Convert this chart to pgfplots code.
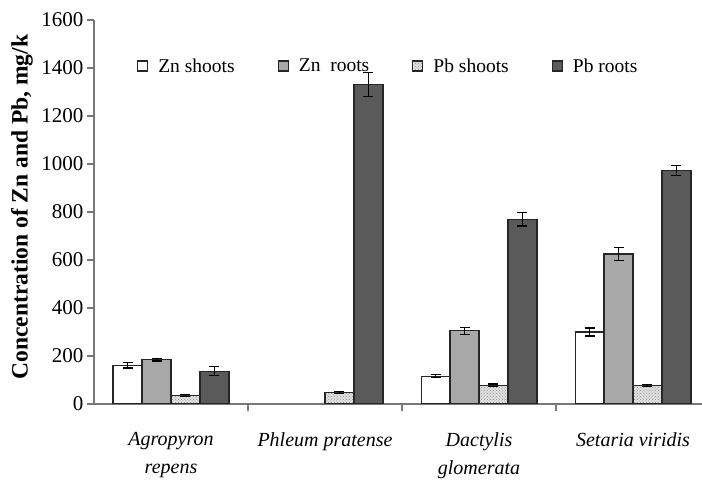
\documentclass[border=0pt]{standalone}
\usepackage{pgfplots}
\pgfplotsset{compat=1.18}
\usepackage{fontspec}
\setmainfont{Liberation Serif}
\usetikzlibrary{patterns}

\definecolor{znroot}{RGB}{168,168,168}
\definecolor{pbroot}{RGB}{90,90,90}
\definecolor{pbshoot}{RGB}{225,225,225}
\definecolor{axisgray}{RGB}{120,120,120}

\pgfplotsset{
  boxlegend/.style={legend image code/.code={\draw[##1] (0pt,-5pt) rectangle (10pt,5pt);}},
  barline/.style={draw=black!85, line width=1.2pt},
  errs/.style={error bars/.cd, y dir=both, y explicit,
    error bar style={black, line width=1.2pt},
    error mark options={rotate=90, mark size=5pt, black, line width=1.2pt}},
}

\begin{document}
\begin{tikzpicture}
\begin{axis}[
  scale only axis, width=608pt, height=384pt,
  xmin=-0.5, xmax=3.448, ymin=0, ymax=1600,
  axis x line*=bottom, axis y line*=left,
  axis line style={-, draw=axisgray, line width=1.1pt},
  ybar=0pt, bar width=0.188,
  ytick={0,200,...,1600},
  every tick/.style={draw=axisgray, line width=1.1pt},
  xtick={0.5,1.5,2.5},
  xticklabels={},
  extra x ticks={0,1,2,3},
  extra x tick labels={{Agropyron\\repens},{Phleum pratense},{Dactylis\\glomerata},{Setaria viridis}},
  extra x tick style={major tick length=0pt,
    tick label style={font=\fontsize{20}{28}\selectfont\itshape, align=center, anchor=north, yshift=-25pt}},
  /pgf/number format/1000 sep={},
  /pgf/number format/assume math mode=true,
  y tick label style={font=\fontsize{21}{24}\selectfont},
  ylabel={Concentration of Zn and Pb, mg/k},
  every axis y label/.style={at={(axis description cs:0,0.513)}, rotate=90, anchor=center, yshift=72pt, font=\fontsize{23.5}{26}\selectfont\bfseries},
  legend style={at={(rel axis cs:0.484,0.88)}, anchor=center, draw=none, fill=none,
    legend columns=4, font=\fontsize{19.5}{22}\selectfont,
    /tikz/every odd column/.append style={column sep=8pt},
    /tikz/every even column/.append style={column sep=41pt}},
  legend cell align=left,
  tick align=outside, major tick length=7pt,
]
\addplot[barline, fill=white, boxlegend, errs] coordinates {
  (0,162) +- (0,12)
  (2,116) +- (0,6)
  (3,300) +- (0,17)
};
\addplot[barline, fill=znroot, boxlegend, errs] coordinates {
  (0,185) +- (0,6)
  (2,305) +- (0,14)
  (3,625) +- (0,28)
};
\addplot[barline, fill=pbshoot, postaction={pattern=crosshatch dots, pattern color=black!45}, boxlegend, errs] coordinates {
  (0,35) +- (0,4)
  (1,47) +- (0,4)
  (2,78) +- (0,5)
  (3,77) +- (0,4)
};
\addplot[barline, fill=pbroot, boxlegend, errs] coordinates {
  (0,137) +- (0,18)
  (1,1332) +- (0,50)
  (2,770) +- (0,28)
  (3,973) +- (0,21)
};
\legend{Zn shoots, Zn\ \ roots, Pb shoots, Pb roots}
\end{axis}
\pgfresetboundingbox
\path (-94pt,-78pt) rectangle (608pt,404pt);
\end{tikzpicture}
\end{document}
